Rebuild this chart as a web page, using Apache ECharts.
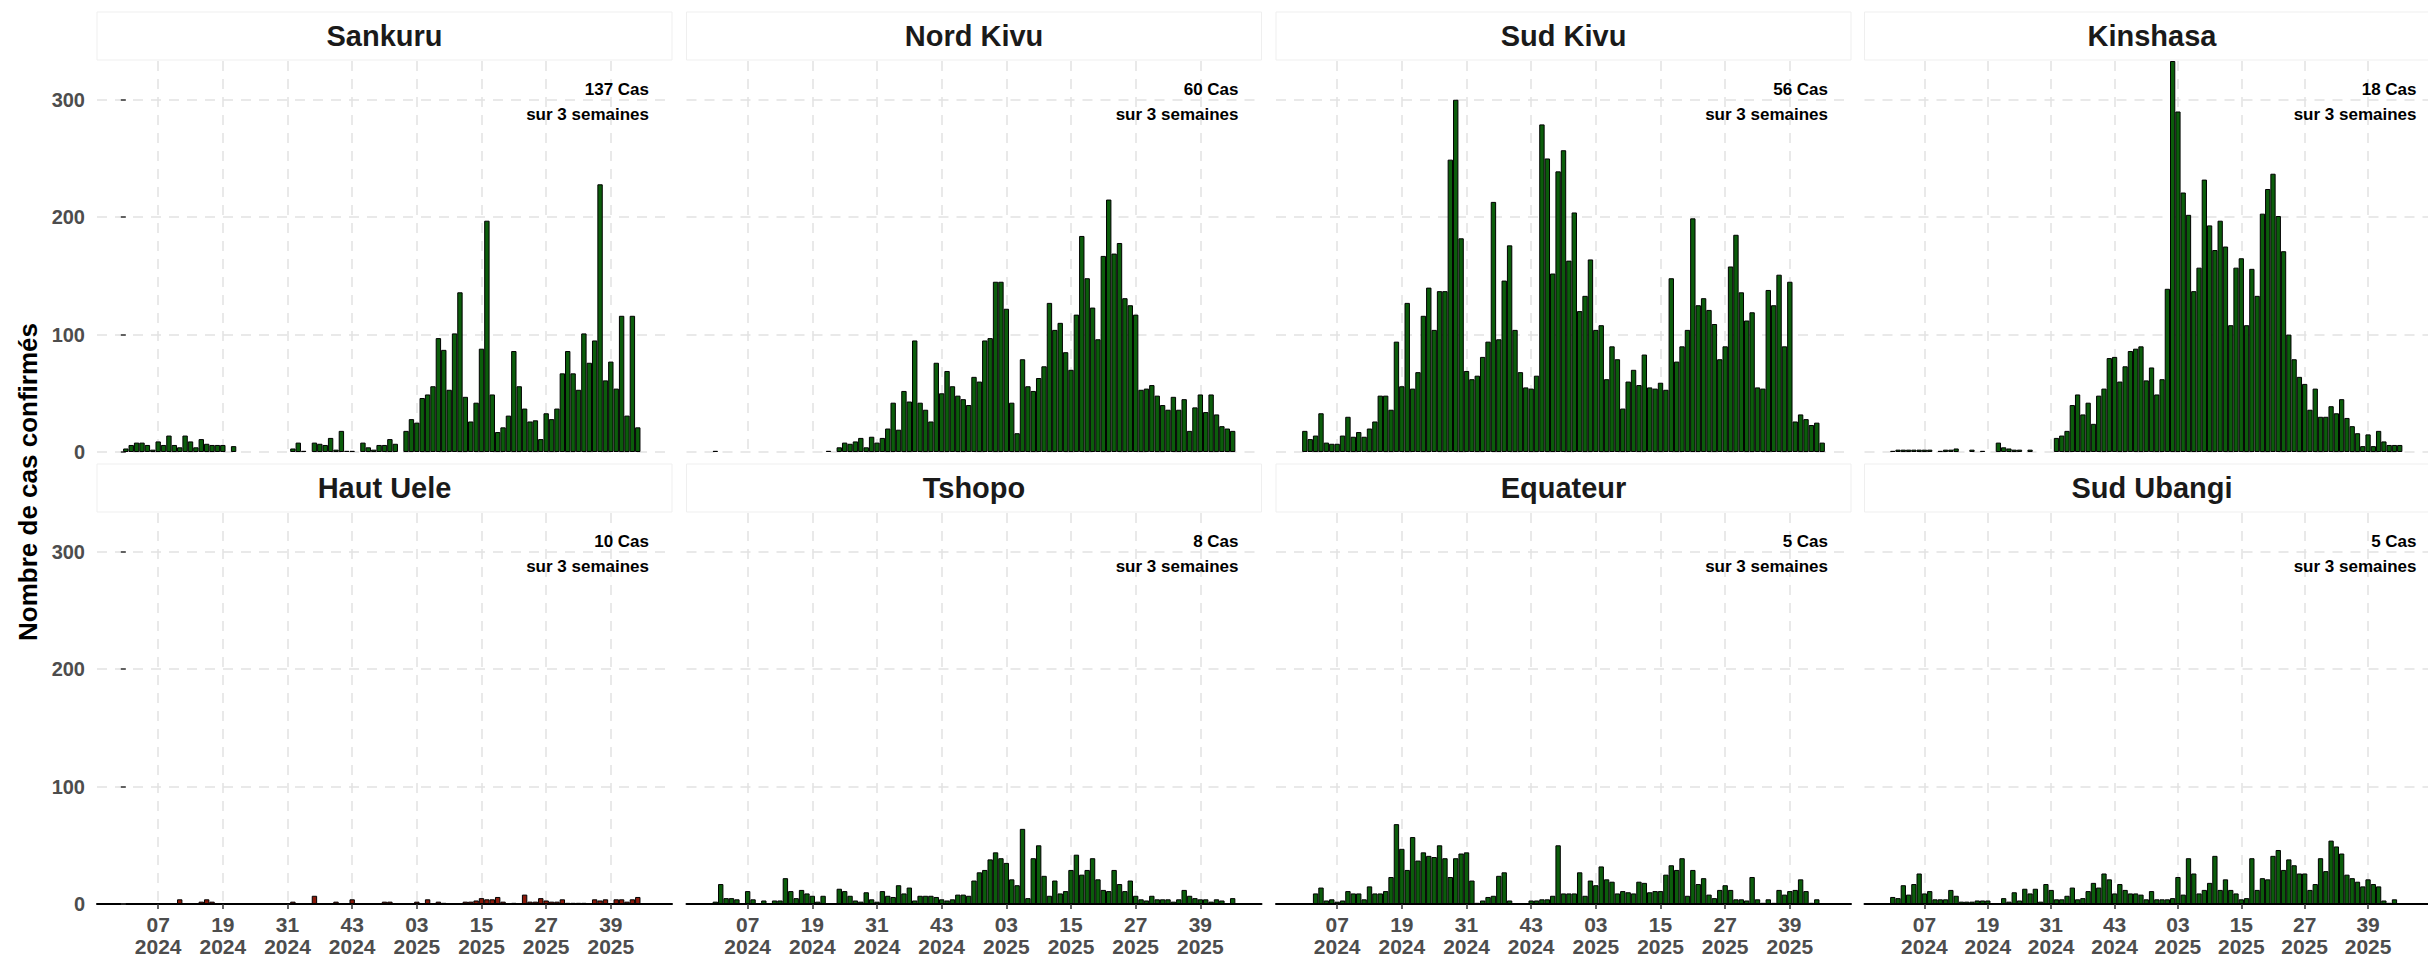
<!DOCTYPE html>
<html><head><meta charset="utf-8">
<script src="https://cdn.jsdelivr.net/npm/echarts@6/dist/echarts.min.js"></script>
<style>html,body{margin:0;padding:0;background:#fff;overflow:hidden}#chart{width:2428px;height:957px}</style>
</head><body><div id="chart"></div>
<script>
// ---------- DATA ----------
const weeks = [
 '2024-W01','2024-W02','2024-W03','2024-W04','2024-W05','2024-W06','2024-W07','2024-W08','2024-W09','2024-W10',
 '2024-W11','2024-W12','2024-W13','2024-W14','2024-W15','2024-W16','2024-W17','2024-W18','2024-W19','2024-W20',
 '2024-W21','2024-W22','2024-W23','2024-W24','2024-W25','2024-W26','2024-W27','2024-W28','2024-W29','2024-W30',
 '2024-W31','2024-W32','2024-W33','2024-W34','2024-W35','2024-W36','2024-W37','2024-W38','2024-W39','2024-W40',
 '2024-W41','2024-W42','2024-W43','2024-W44','2024-W45','2024-W46','2024-W47','2024-W48','2024-W49','2024-W50',
 '2024-W51','2024-W52',
 '2025-W01','2025-W02','2025-W03','2025-W04','2025-W05','2025-W06','2025-W07','2025-W08','2025-W09','2025-W10',
 '2025-W11','2025-W12','2025-W13','2025-W14','2025-W15','2025-W16','2025-W17','2025-W18','2025-W19','2025-W20',
 '2025-W21','2025-W22','2025-W23','2025-W24','2025-W25','2025-W26','2025-W27','2025-W28','2025-W29','2025-W30',
 '2025-W31','2025-W32','2025-W33','2025-W34','2025-W35','2025-W36','2025-W37','2025-W38','2025-W39','2025-W40',
 '2025-W41','2025-W42','2025-W43','2025-W44','2025-W45'
];
const tickWeeks = ['2024-W07','2024-W19','2024-W31','2024-W43','2025-W03','2025-W15','2025-W27','2025-W39'];
const yTicks = [0, 100, 200, 300];
const yMax = 333;

const provinces = ['Sankuru','Nord Kivu','Sud Kivu','Kinshasa','Haut Uele','Tshopo','Equateur','Sud Ubangi'];
const recentCases = [137, 60, 56, 18, 10, 8, 5, 5];
const recentSuffix = ' Cas';
const recentLabel = 'sur 3 semaines';
const yTitle = 'Nombre de cas confirmés';

const _ = null;
const sankuru = [
 3,6,8,8,6,2,9,6,14,6,
 4,14,9,4,11,7,6,6,6,_,
 5,_,_,_,_,_,_,_,_,_,
 _,3,8,1,_,8,7,6,12,2,
 18,1,1,_,8,4,2,6,6,11,
 7,_,18,28,25,46,49,56,97,87,
 53,101,136,47,26,42,88,197,49,17,
 21,31,86,56,37,26,27,11,33,28,
 37,67,86,67,53,101,76,95,228,61,
 77,54,116,31,116,21,_
];
const nordKivu = [
 1,_,_,_,_,_,_,_,_,_,
 _,_,_,_,_,_,_,_,_,_,
 _,1,_,4,8,7,9,12,4,13,
 8,12,20,42,19,52,43,95,42,36,
 26,76,50,69,56,48,45,40,64,60,
 95,97,145,145,122,42,16,79,56,52,
 63,73,127,104,110,85,70,117,184,148,
 123,96,167,215,169,178,131,125,117,53,
 54,57,48,40,36,47,36,45,18,38,
 49,34,49,32,22,20,18
];
const sudKivu = [
 18,11,14,33,8,7,7,14,30,13,
 17,13,20,26,48,48,36,94,56,127,
 54,68,116,140,104,137,137,249,300,182,
 69,62,65,81,94,213,96,146,176,104,
 68,55,54,65,279,250,152,239,257,163,
 204,120,133,164,104,108,62,90,79,37,
 60,70,57,83,55,54,59,53,148,77,
 90,104,199,125,131,121,109,79,90,158,
 185,136,112,119,55,54,138,125,151,90,
 145,26,32,28,23,25,8
];
const kinshasa = [
 1,2,2,2,2,2,2,2,_,1,
 2,2,3,_,_,2,_,1,_,_,
 8,4,3,2,2,_,2,_,_,_,
 _,12,14,18,40,49,32,42,24,48,
 54,80,81,60,73,86,88,90,61,72,
 49,62,139,333,290,221,202,137,157,232,
 193,172,197,175,108,157,165,108,156,133,
 203,224,237,201,171,100,79,64,58,36,
 54,30,30,39,33,45,29,22,16,5,
 15,5,18,9,6,6,6
];
const hautUele = [
 _,_,_,_,_,_,_,_,_,_,
 4,_,_,_,2,4,2,_,_,_,
 _,_,_,_,_,_,_,_,_,_,
 _,2,_,_,_,7,_,_,_,2,
 _,_,4,_,_,_,_,_,2,2,
 _,_,_,_,2,_,4,_,2,1,
 _,_,_,2,2,3,5,4,4,6,
 2,_,1,_,8,2,2,5,3,2,
 2,4,1,1,1,1,_,4,3,4,
 _,4,4,2,4,6,_
];
const tshopo = [
 2,17,5,5,4,_,11,4,_,3,
 _,3,3,22,11,5,12,9,7,2,
 7,_,_,13,11,7,3,2,10,4,
 2,11,7,6,16,9,14,3,7,7,
 7,6,4,3,4,8,8,7,20,27,
 29,38,44,39,35,21,16,64,5,39,
 50,24,7,20,9,11,29,42,25,29,
 39,21,12,11,29,17,11,20,7,4,
 3,7,4,4,4,2,4,12,7,5,
 4,4,2,4,3,_,5
];
const equateur = [
 _,_,9,14,3,4,2,3,11,9,
 9,4,15,9,9,11,23,68,47,29,
 57,37,44,41,40,50,39,23,39,43,
 44,20,1,3,6,7,24,27,3,_,
 _,_,3,3,4,4,7,50,9,9,
 9,27,7,20,16,32,21,19,9,11,
 10,9,19,18,10,11,11,25,33,29,
 39,7,29,17,22,8,5,12,16,12,
 4,4,3,23,4,1,4,1,12,8,
 11,12,21,11,1,4,_
];
const sudUbangi = [
 6,5,16,8,17,26,9,11,4,4,
 4,12,7,2,2,2,3,3,3,_,
 _,5,2,10,3,13,9,13,2,17,
 12,4,4,7,14,4,5,11,18,14,
 26,21,9,17,12,9,9,8,4,11,
 4,4,4,5,23,8,39,26,9,12,
 18,41,12,21,12,9,4,5,39,12,
 22,21,41,46,29,38,33,26,26,12,
 17,39,28,54,49,43,25,22,19,15,
 21,17,15,3,1,4,_
];
const seriesValues = [sankuru, nordKivu, sudKivu, kinshasa, hautUele, tshopo, equateur, sudUbangi];

// ---------- STYLE / LAYOUT ----------
const FONT = "'Liberation Sans', Arial, Helvetica, sans-serif";
const COL_LEFT = [97, 686.5, 1276, 1864.5];
const ROW_TOP = [61, 513];
const PANEL_W = 575, PANEL_H = 391, STRIP_H = 48;
const GREEN = '#0b5d0b', RED = '#8b1a0a';
const barColors = [GREEN, GREEN, GREEN, GREEN, RED, GREEN, GREEN, GREEN];
const GRID_COLOR = '#e2e2e2';

const n = weeks.length;
const pad = 0.05 * n;
const xMin = -0.5 - pad, xMax = n - 0.5 + pad;
const xTickIdx = tickWeeks.map(w => weeks.indexOf(w));

const grids = [], xAxes = [], yAxes = [], series = [], graphics = [];

provinces.forEach((name, k) => {
  const r = Math.floor(k / 4), c = k % 4;
  const left = COL_LEFT[c], top = ROW_TOP[r];
  grids.push({ left: left, top: top, width: PANEL_W, height: PANEL_H, containLabel: false });
  xAxes.push({
    type: 'value', gridIndex: k, min: xMin, max: xMax,
    axisLine: { show: r === 1, onZero: false, lineStyle: { color: '#000', width: 2 } },
    axisTick: { show: r === 1, customValues: xTickIdx, length: 5, lineStyle: { color: '#333', width: 1.5 } },
    axisLabel: {
      show: r === 1, customValues: xTickIdx, margin: 9,
      fontFamily: FONT, fontSize: 21, fontWeight: 'bold', color: '#4d4d4d', lineHeight: 22,
      formatter: v => { const w = weeks[Math.round(v)]; return w.slice(6) + '\n' + w.slice(0, 4); }
    },
    splitLine: { show: true, lineStyle: { color: GRID_COLOR, width: 1.5, type: [10, 8] } }
  });
  yAxes.push({
    type: 'value', gridIndex: k, min: 0, max: yMax,
    axisLine: { show: false },
    axisTick: { show: c === 0, customValues: yTicks, length: 5, lineStyle: { color: '#333', width: 1.5 } },
    axisLabel: { show: c === 0, customValues: yTicks, margin: 12, fontFamily: FONT, fontSize: 20, fontWeight: 'bold', color: '#4d4d4d' },
    splitLine: { show: true, lineStyle: { color: GRID_COLOR, width: 1.5, type: [10, 8] } }
  });
  const vals = seriesValues[k];
  const data = [];
  vals.forEach((v, i) => { if (v !== null) data.push([i, v]); });
  series.push({
    type: 'bar', name: name, xAxisIndex: k, yAxisIndex: k, data: data,
    barCategoryGap: '0%', barGap: '0%',
    itemStyle: { color: barColors[k], borderColor: '#000', borderWidth: 1 },
    silent: true
  });
  // strip
  graphics.push({
    type: 'rect', shape: { x: left, y: top - STRIP_H - 1, width: PANEL_W, height: STRIP_H },
    style: { fill: '#ffffff', stroke: '#efefef', lineWidth: 1 }, silent: true
  });
  graphics.push({
    type: 'text', x: left + PANEL_W / 2, y: top - STRIP_H / 2 - 1,
    style: { text: name, fill: '#1a1a1a', font: 'bold 29px ' + FONT, textAlign: 'center', textVerticalAlign: 'middle' },
    silent: true
  });
  // annotation
  graphics.push({
    type: 'text', x: left + 552, y: top + 28.5,
    style: { text: recentCases[k] + recentSuffix, fill: '#000', font: 'bold 17px ' + FONT, textAlign: 'right', textVerticalAlign: 'middle' },
    silent: true, z: 10
  });
  graphics.push({
    type: 'text', x: left + 552, y: top + 53.5,
    style: { text: recentLabel, fill: '#000', font: 'bold 17px ' + FONT, textAlign: 'right', textVerticalAlign: 'middle' },
    silent: true, z: 10
  });
});

graphics.push({
  type: 'text', x: 28, y: 482, rotation: Math.PI / 2,
  style: { text: yTitle, fill: '#000', font: 'bold 26px ' + FONT, textAlign: 'center', textVerticalAlign: 'middle' },
  silent: true
});

const chart = echarts.init(document.getElementById('chart'), null, { renderer: 'svg' });
chart.setOption({
  animation: false,
  backgroundColor: '#ffffff',
  grid: grids, xAxis: xAxes, yAxis: yAxes, series: series,
  graphic: graphics
});
</script>
</body></html>
